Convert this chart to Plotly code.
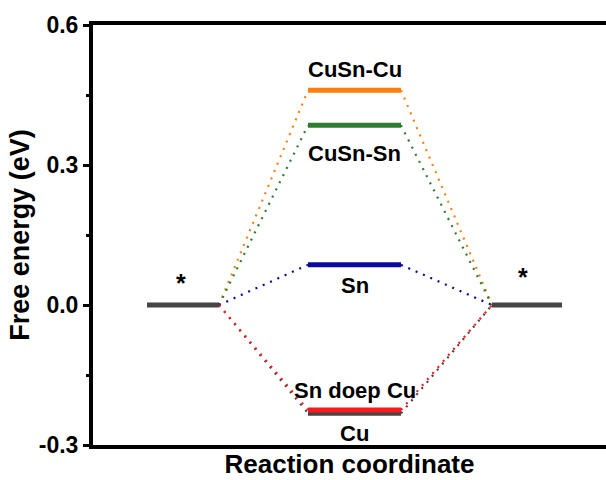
import plotly.graph_objects as go

# Free-energy levels (eV) of the intermediate on each surface
surfaces = ["CuSn-Cu", "CuSn-Sn", "Sn", "Cu", "Sn doep Cu"]
energies = [0.46, 0.385, 0.086, -0.232, -0.225]
colors = ["#ff7f0e", "#2e7d32", "#0a0a9e", "#454545", "#ff1a1a"]
start_energy = 0.0
end_energy = 0.0
star_label = "*"

# horizontal extent of each state along the reaction coordinate
left_span = (0.54, 1.26)
mid_span = (2.15, 3.08)
right_span = (3.99, 4.69)

# label placement (pixel shift relative to the level)
label_shift = {"CuSn-Cu": 21, "CuSn-Sn": -28, "Sn": -21, "Cu": -20, "Sn doep Cu": 20}

FONT = "Liberation Sans, Arial, sans-serif"

fig = go.Figure()

# dotted connectors from the initial and to the final state
for name, e, c in zip(surfaces, energies, colors):
    fig.add_trace(go.Scatter(
        x=[left_span[1], mid_span[0], None, mid_span[1], right_span[0]],
        y=[start_energy, e, None, e, end_energy],
        mode="lines", line=dict(color=c, width=2.2, dash="2px,6px"),
        hoverinfo="skip", showlegend=False))

# initial / final states
for span, e in [(left_span, start_energy), (right_span, end_energy)]:
    fig.add_trace(go.Scatter(x=list(span), y=[e, e], mode="lines",
                             line=dict(color="#454545", width=5),
                             showlegend=False))

# intermediate levels
for name, e, c in zip(surfaces, energies, colors):
    fig.add_trace(go.Scatter(x=list(mid_span), y=[e, e], mode="lines",
                             line=dict(color=c, width=5), name=name,
                             showlegend=False))
    fig.add_annotation(x=sum(mid_span) / 2, y=e, text=name, showarrow=False,
                       yshift=label_shift[name],
                       font=dict(family=FONT, size=22, color="black",
                                 weight="bold"))

fig.add_annotation(x=0.88, y=start_energy, text=star_label, showarrow=False,
                   yshift=22, font=dict(family=FONT, size=25, color="black",
                                        weight="bold"))
fig.add_annotation(x=4.30, y=end_energy, text=star_label, showarrow=False,
                   yshift=28, font=dict(family=FONT, size=25, color="black",
                                        weight="bold"))

fig.update_layout(
    width=606, height=480,
    margin=dict(l=93, r=0, t=25, b=35),
    plot_bgcolor="white", paper_bgcolor="white",
    font=dict(family=FONT, color="black"),
    xaxis=dict(range=[0, 5.13], showline=True, linecolor="black",
               linewidth=4, mirror=True, showticklabels=False, ticks="",
               showgrid=False, zeroline=False,
               title=dict(text="<b>Reaction coordinate</b>", standoff=8,
                          font=dict(size=26))),
    yaxis=dict(range=[-0.3, 0.6], tickvals=[-0.3, 0.0, 0.3, 0.6],
               ticktext=["-0.3", "0.0", "0.3", "0.6"],
               showline=True, linecolor="black", linewidth=4, mirror=False,
               ticks="outside", ticklen=6, tickwidth=3, tickcolor="black",
               minor=dict(tickvals=[-0.15, 0.15, 0.45], ticks="outside",
                          ticklen=3, tickwidth=3, tickcolor="black"),
               showgrid=False, zeroline=False,
               tickfont=dict(size=23, weight="bold"),
               title=dict(text="<b>Free energy (eV)</b>", standoff=2,
                          font=dict(size=27))),
)

fig.write_html("out.html")
